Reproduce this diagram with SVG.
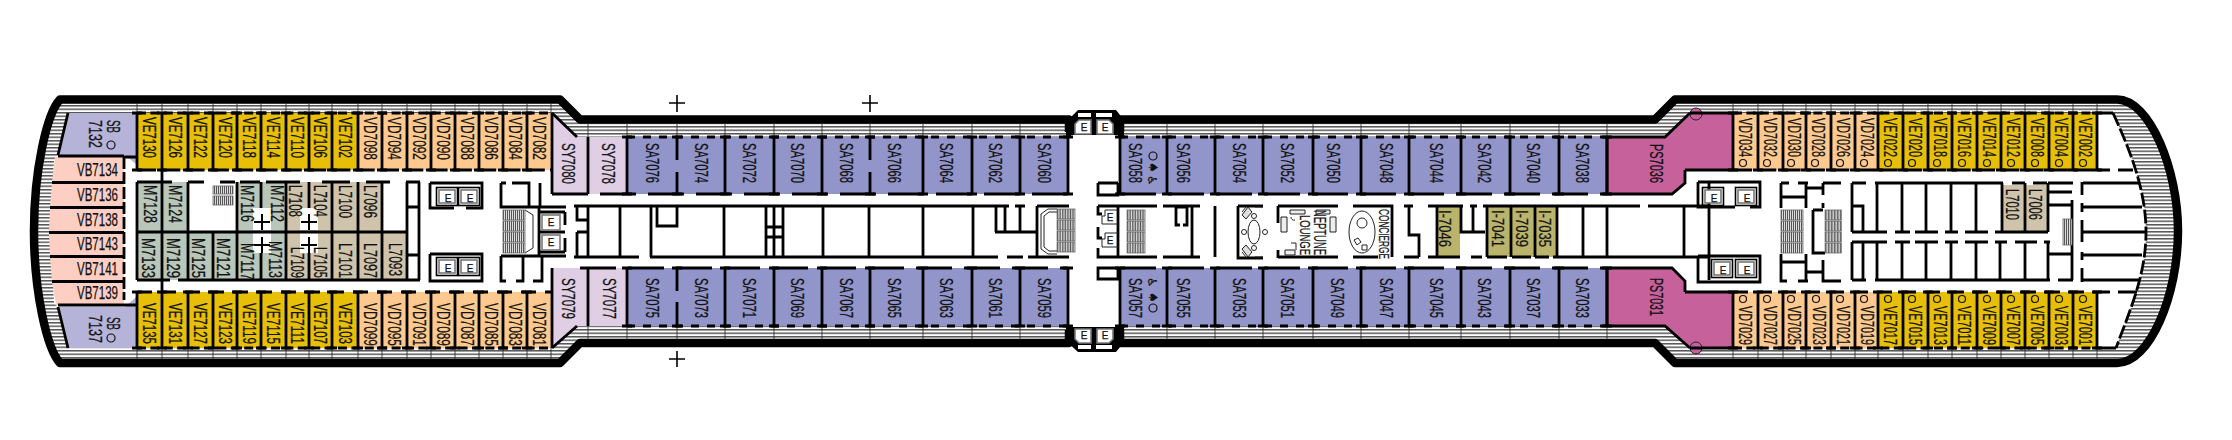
<svg xmlns="http://www.w3.org/2000/svg" width="2232" height="440" viewBox="0 0 2232 440">
<style>
text{font-family:"Liberation Sans",Arial,sans-serif;fill:#111;stroke:#111;stroke-width:.25}
.l{font-size:18px}
.s{font-size:17px}
.e{font-size:10px;text-anchor:middle}
.w{fill:none;stroke:#000;stroke-width:2.8}
.t{fill:none;stroke:#222;stroke-width:.8}
.n{fill:none;stroke:#222;stroke-width:1}
.hull{fill:none;stroke:#000;stroke-width:8.500;stroke-linejoin:round}
.ve{fill:#e6bf06}.vd{fill:#fdc98f}.sb{fill:#b6b3d9}.vb{fill:#fdcfc3}.m{fill:#b9c6ba}.ll{fill:#cfc4ab}.sy{fill:#e0cfe4}.sa{fill:#9295c9}.ps{fill:#c6619b}.ii{fill:#bab36c}
.o{fill:none;stroke:#111;stroke-width:1.2}
.ebox{fill:#fff;stroke:#777;stroke-width:1.6}
.st{fill:url(#stair);stroke:#666;stroke-width:.8}
</style>
<defs>
<pattern id="rail" width="10" height="3.500" patternUnits="userSpaceOnUse"><rect width="10" height="3.500" fill="#fff"/><rect width="10" height="1.500" fill="#555"/></pattern>
<pattern id="stair" width="2" height="10" patternUnits="userSpaceOnUse"><rect width="2" height="10" fill="#ddd"/><rect width="1" height="10" fill="#555"/></pattern>
<path id="d1" class="w" d="M0 112V171M-5 113H5M-5 170H5"/>
<path id="d2" class="w" d="M0 291V349M-5 292H5M-5 348H5"/>
<path id="d3" class="w" d="M0 136V195M-5 137H5M-5 194H5"/>
<path id="d4" class="w" d="M0 267V327M-5 268H5M-5 326H5"/>
<path id="d3g" class="w" d="M0 136V160M0 172V195M-5 137H5M-5 194H5"/>
<path id="d4g" class="w" d="M0 267V291M0 302V327M-5 268H5M-5 326H5"/>
<g id="ev"><rect x="-1.500" y="-1.500" width="21" height="18" fill="none" stroke="#000" stroke-width="1.600"/><rect class="ebox" x="1" y="1" width="16" height="13"/></g>
<g id="stairs"><rect class="st" width="22" height="10"/><rect class="st" y="11" width="22" height="10"/><rect class="st" y="22" width="22" height="10"/><rect class="st" y="33" width="22" height="10"/></g>
</defs>

<g id="hull">
<path fill="url(#rail)" d="M1068 119.500H580L560 99.500H60C47 113 34 170 34 231C34 292 47 349 60 363H560L580 343H1068Z"/>
<path fill="url(#rail)" d="M1120 119.500H1655L1675 99.500H2117C2150 99.500 2178 170 2178 231C2178 295 2150 363 2117 363H1675L1655 343H1120Z"/>
<path fill="#fff" d="M68 113H552L577 137H1068V326H577L552 348H68L58 307L54 303L50 232L54 160L58 155Z"/>
<path fill="#fff" d="M1120 137H1665L1690 113H2113C2130 150 2146 190 2146 232C2146 275 2130 310 2116 348H1690L1665 326H1120Z"/>
<path class="hull" d="M1069 132V119.500H580L560 99.500H60C47 113 34 170 34 231C34 292 47 349 60 363H560L580 343H1069V330"/>
<path class="hull" d="M1120 132V119.500H1655L1675 99.500H2117C2150 99.500 2178 170 2178 231C2178 295 2150 363 2117 363H1675L1655 343H1120V330"/>
<path class="t" d="M137 103V113M162 103V113M188 103V113M213 103V113M237 103V113M261 103V113M286 103V113M309 103V113M332 103V113M358 103V113M382 103V113M407 103V113M431 103V113M455 103V113M479 103V113M503 103V113M527 103V113M551 103V113
M137 348V359M162 348V359M188 348V359M213 348V359M237 348V359M261 348V359M286 348V359M309 348V359M332 348V359M358 348V359M382 348V359M407 348V359M431 348V359M455 348V359M479 348V359M503 348V359M527 348V359M551 348V359
M588 123V137M627 123V137M677 123V137M725 123V137M774 123V137M822 123V137M870 123V137M923 123V137M972 123V137M1020 123V137M1167 123V137M1215 123V137M1263 123V137M1313 123V137M1361 123V137M1409 123V137M1461 123V137M1510 123V137M1559 123V137M1607 123V137
M588 326V339M627 326V339M677 326V339M725 326V339M774 326V339M822 326V339M870 326V339M923 326V339M972 326V339M1020 326V339M1167 326V339M1215 326V339M1263 326V339M1313 326V339M1361 326V339M1409 326V339M1461 326V339M1510 326V339M1559 326V339M1607 326V339
M1733 103V113M1758 103V113M1783 103V113M1806 103V113M1831 103V113M1855 103V113M1878 103V113M1903 103V113M1928 103V113M1952 103V113M1977 103V113M2001 103V113M2025 103V113M2049 103V113M2073 103V113M2097 103V113
M1733 348V359M1758 348V359M1783 348V359M1806 348V359M1831 348V359M1855 348V359M1878 348V359M1903 348V359M1928 348V359M1952 348V359M1977 348V359M2001 348V359M2025 348V359M2049 348V359M2073 348V359M2097 348V359"/>
<path d="M669 103H685M677 95V112M862 103H878M870 95V112M669 359H685M677 351V367" fill="none" stroke="#000" stroke-width="1.600"/>
</g>

<g id="cabin-fills">
<path class="sb" d="M68 113H137V165L125 155H58Z"/>
<path class="sb" d="M58 307H125L137 296V348H68Z"/>
<path class="vb" d="M55 157H124V182H52Z"/><path class="vb" d="M52 183H124V207H50Z"/><path class="vb" d="M50 208H124V232H49Z"/><path class="vb" d="M49 233H124V256H50Z"/><path class="vb" d="M50 257H124V281H52Z"/><path class="vb" d="M52 282H124V305H56Z"/>
<rect class="ve" x="137" y="113" width="221" height="57"/>
<rect class="vd" x="358" y="113" width="194" height="57"/>
<rect class="ve" x="137" y="292" width="221" height="56"/>
<rect class="vd" x="358" y="292" width="194" height="56"/>
<path class="sy" d="M552 113L577 137H627V194H552Z"/>
<path class="sy" d="M552 268H627V326H577L553 348Z"/>
<rect class="sa" x="627" y="137" width="441" height="57"/>
<rect class="sa" x="627" y="268" width="441" height="58"/>
<rect class="sa" x="1120" y="137" width="487" height="57"/>
<rect class="sa" x="1120" y="268" width="487" height="58"/>
<path class="ps" d="M1607 137H1665L1690 114H1733V170H1685V183L1672 194H1607Z"/>
<path class="ps" d="M1607 268H1672L1685 281V292H1733V348H1690L1665 326H1607Z"/>
<rect class="vd" x="1733" y="113" width="145" height="57"/>
<rect class="ve" x="1878" y="113" width="219" height="57"/>
<rect class="vd" x="1733" y="292" width="145" height="56"/>
<rect class="ve" x="1878" y="292" width="219" height="56"/>
<rect class="m" x="137" y="182" width="52" height="50"/>
<rect class="m" x="237" y="182" width="49" height="50"/>
<rect class="m" x="137" y="232" width="149" height="48"/>
<rect class="ll" x="286" y="182" width="96" height="50"/>
<rect class="ll" x="286" y="232" width="121" height="48"/>
<rect class="ii" x="1437" y="207" width="23" height="50"/>
<rect class="ii" x="1487" y="207" width="70" height="50"/>
<rect class="ll" x="2002" y="185" width="45" height="46"/>
<path fill="#fff" d="M253 208H271V230H253ZM253 233H271V253H253ZM300 208H318V230H300ZM300 233H318V253H300Z"/>
<circle cx="1696" cy="114" r="6" class="ps" stroke="#222" stroke-width="1"/>
<circle cx="1696" cy="348" r="6" class="ps" stroke="#222" stroke-width="1"/>
</g>

<g id="walls">
<path class="w" stroke-dasharray="9 4.400" d="M137 113H552M137 348H552"/>
<path class="w" stroke-dasharray="19 5.300" d="M137 170H552"/>
<path class="w" stroke-dasharray="15 9" d="M137 292H552"/>
<path class="w" stroke-dasharray="8 8" d="M627 137H1068M1120 137H1607M627 326H1068M1120 326H1607"/>
<path class="w" stroke-dasharray="36 12" d="M552 194H1068M1120 194H1607M580 268H1068M1120 268H1607"/>
<path class="w" stroke-dasharray="9 4.400" d="M1733 113H2097M1733 348H2097"/>
<path class="w" stroke-dasharray="19 5.300" d="M1733 170H2097"/>
<path class="w" stroke-dasharray="15 9" d="M1733 292H2097"/>
<path class="w" d="M68 113L58 155M58 307L68 348M552 113L577 137M552 348L577 326" stroke-width="1.500"/>
<path class="w" d="M552 113V194M552 268V348M588 137V194M588 268V326"/>
<path class="w" d="M124 157V300" stroke-dasharray="12 3"/>
<path class="w" d="M124 157H137M124 305H137M52 182.500H124M50 207.500H124M49 232.500H124M50 256.500H124M52 281.500H124M58 156H124M58 305H124"/>
<use href="#d1" x="137"/><use href="#d1" x="162"/><use href="#d1" x="188"/><use href="#d1" x="213"/><use href="#d1" x="237"/><use href="#d1" x="261"/><use href="#d1" x="286"/><use href="#d1" x="309"/><use href="#d1" x="332"/><use href="#d1" x="358"/><use href="#d1" x="382"/><use href="#d1" x="407"/><use href="#d1" x="431"/><use href="#d1" x="455"/><use href="#d1" x="479"/><use href="#d1" x="503"/><use href="#d1" x="527"/>
<use href="#d2" x="137"/><use href="#d2" x="162"/><use href="#d2" x="188"/><use href="#d2" x="213"/><use href="#d2" x="237"/><use href="#d2" x="261"/><use href="#d2" x="286"/><use href="#d2" x="309"/><use href="#d2" x="332"/><use href="#d2" x="358"/><use href="#d2" x="382"/><use href="#d2" x="407"/><use href="#d2" x="431"/><use href="#d2" x="455"/><use href="#d2" x="479"/><use href="#d2" x="503"/><use href="#d2" x="527"/>
<use href="#d3" x="627"/><use href="#d3g" x="677"/><use href="#d3" x="725"/><use href="#d3" x="774"/><use href="#d3" x="822"/><use href="#d3g" x="870"/><use href="#d3" x="923"/><use href="#d3" x="972"/><use href="#d3" x="1020"/><use href="#d3" x="1068"/>
<use href="#d4" x="627"/><use href="#d4g" x="677"/><use href="#d4" x="725"/><use href="#d4" x="774"/><use href="#d4" x="822"/><use href="#d4" x="870"/><use href="#d4" x="923"/><use href="#d4" x="972"/><use href="#d4" x="1020"/><use href="#d4" x="1068"/>
<use href="#d3" x="1120"/><use href="#d3" x="1167"/><use href="#d3" x="1215"/><use href="#d3" x="1263"/><use href="#d3" x="1313"/><use href="#d3" x="1361"/><use href="#d3" x="1409"/><use href="#d3" x="1461"/><use href="#d3" x="1510"/><use href="#d3" x="1559"/><use href="#d3" x="1607"/>
<use href="#d4" x="1120"/><use href="#d4" x="1167"/><use href="#d4" x="1215"/><use href="#d4" x="1263"/><use href="#d4" x="1313"/><use href="#d4" x="1361"/><use href="#d4" x="1409"/><use href="#d4" x="1461"/><use href="#d4" x="1510"/><use href="#d4" x="1559"/><use href="#d4" x="1607"/>
<use href="#d1" x="1733"/><use href="#d1" x="1758"/><use href="#d1" x="1783"/><use href="#d1" x="1806"/><use href="#d1" x="1831"/><use href="#d1" x="1855"/><use href="#d1" x="1878"/><use href="#d1" x="1903"/><use href="#d1" x="1928"/><use href="#d1" x="1952"/><use href="#d1" x="1977"/><use href="#d1" x="2001"/><use href="#d1" x="2025"/><use href="#d1" x="2049"/><use href="#d1" x="2073"/><use href="#d1" x="2097"/>
<use href="#d2" x="1733"/><use href="#d2" x="1758"/><use href="#d2" x="1783"/><use href="#d2" x="1806"/><use href="#d2" x="1831"/><use href="#d2" x="1855"/><use href="#d2" x="1878"/><use href="#d2" x="1903"/><use href="#d2" x="1928"/><use href="#d2" x="1952"/><use href="#d2" x="1977"/><use href="#d2" x="2001"/><use href="#d2" x="2025"/><use href="#d2" x="2049"/><use href="#d2" x="2073"/><use href="#d2" x="2097"/>
<path class="w" d="M1607 137V194M1607 268V326M1685 170V183L1672 194H1607M1685 292V281L1672 268H1607M1733 170H1685M1733 292H1685M1690 113H1733M1690 348H1733M1607 137H1665L1690 113M1607 326H1665L1690 348"/>
<path class="w" d="M2097 113H2113M2097 348H2116M2097 170H2110M2118 170H2133M2097 292H2110M2118 292H2137"/>
<path class="w" stroke-dasharray="14 3" d="M2113 113C2130 150 2146 190 2146 232C2146 275 2130 310 2116 348"/>
<path class="w" d="M137 182H172M188 182H204M220 182H235M240 182H260M266 182H300M322 182H350M366 182H390M406 182H420M137 280H170M178 280H420M137 182V280M162 170V182M162 280V292M137 232H407M162 182V280M188 182V280M213 232V280M237 182V280M261 182V208M261 253V280M286 182V280M309 182V208M309 253V280M332 182V280M358 182V280M382 182V280M407 182V280M419 182V280M407 207H419M407 255H419"/>
<path class="w" d="M501 183V207H566M501 183H506M512 183H529V207M540 183V207M501 256H566M501 256V281H506M516 281H523V256M533 281H542V256M574 206H1009M574 257H639M650 257H998M1007 257H1023M1028 257H1069M1037 206H1069M577 207V220H588M577 232V257M577 232H588M588 206V257M620 206V257M651 206V257M657 207V226H677V206M724 206V257M766 206V257M774 206V257M783 206V257M766 227H783M766 237H783M823 206V257M869 206V257M923 206V257M973 206V257M996 207V232M1005 207V232M1020 206V232M995 232H1037M1037 206V257M1015 206H1025"/>
<path class="n" d="M525 210L533 215V248L525 253M1057 209H1048L1041 214V249L1048 254H1057M1057 212H1049L1044 216V247L1049 251H1057"/>
<path class="w" d="M1098 206V214H1102M1098 227V238H1102M1098 248V257H1102M1098 206H1157M1163 206H1200M1098 257H1157M1163 257H1200M1118 206V257M1176 207V225H1180M1187 207V225H1183M1176 207H1187M1192 207V257M1215 206V257M1098 183V195H1118V183M1098 183H1118M1098 268H1118V279H1098Z"/>
<path class="w" d="M1238 206H1263M1238 206V258H1263M1278 206H1338M1278 206V223M1278 250V258M1278 257H1338M1353 206H1392V257M1353 257H1378M1404 206H1413M1409 206V235H1419V257M1404 257H1419M1428 206H1463M1461 206V232H1485M1473 206V232M1470 206H1477M1483 206H1640M1428 257H1460M1471 257H1482M1487 257H1507M1512 257H1531M1535 257H1549M1553 257H1640M1648 206H1710M1583 206V257M1607 206V257M1684 206V257M1709 183V280M1640 257H1710M1437 207V257M1487 207V257M1511 207V257M1535 207V257M1557 207V257"/>
<path class="w" d="M1781 183V208M1781 183H1789M1798 183H1808M1781 197H1806M1806 183V208M1806 188H1823M1823 183H1841M1823 183V195M1823 203V208M1781 254V281H1787M1798 281H1808M1781 262H1806M1806 254V281M1806 272H1823M1823 260V281H1841M1813 210V253H1825M1813 210H1823"/>
<path class="w" d="M1852 183H1866M1852 183V232M1852 206H1863V232M1852 232H1887M1877 183V232M1875 183H1910M1902 183V232M1895 232H1910M1852 242V280M1852 242H1887M1863 242V280M1877 242V280M1902 242V280M1895 242H1910M1852 280H1866M1875 280H2050M1902 183H2003M2012 183H2025M2033 183H2047M2048 183H2073M2083 183H2140M1926 183V232M1951 183V232M1976 183V232M1926 242V280M1951 242V280M1976 242V280M2000 242V280M2025 242V280M2048 183V232M2048 242V280M2002 232H2048M2002 183V232M2025 183V232M1915 232H1938M1945 232H1958M1965 232H1988M1995 232H2002M1915 242H1938M1945 242H1958M1965 242H1988M1995 242H2007M2015 242H2037M2044 242H2050M2048 192H2072M2048 205H2072M2048 254H2072M2072 200V262M2072 252V280M2058 280H2073M2082 182V195M2082 203V212M2082 220V242M2082 252V260M2082 268V282M2083 207H2142M2083 232H2145M2083 255H2142M2082 280H2140"/>
</g>

<g id="services">
<use href="#ev" x="438" y="189"/><use href="#ev" x="460" y="189"/><use href="#ev" x="438" y="259"/><use href="#ev" x="460" y="259"/>
<path class="w" d="M430 183H482V208H466M454 208H430V183M430 254H482V281H430V254M430 254H444M452 254H466"/>
<use href="#ev" x="1704" y="189"/><use href="#ev" x="1737" y="189"/><use href="#ev" x="1713" y="261"/><use href="#ev" x="1737" y="261"/>
<path class="w" d="M1698 182H1760V207H1750M1735 207H1698V182M1698 256H1760V282H1698V256"/>
<path class="w" d="M539 207V256M539 212H565M539 232H565M539 252H565M565 212V225M565 238V252"/>
<rect class="ebox" x="542" y="215" width="18" height="15"/><rect class="ebox" x="542" y="235" width="18" height="15"/>
<use href="#stairs" x="503" y="210"/>
<use href="#stairs" transform="translate(1057 209) scale(.82 1)"/>
<use href="#stairs" transform="translate(1127 210) scale(.82 1)"/>
<use href="#stairs" x="1781" y="210"/>
<use href="#stairs" transform="translate(1825 210) scale(.75 1)"/>
<rect class="st" x="213" y="186" width="20" height="8"/><rect class="st" x="213" y="196" width="20" height="9"/>
<rect class="st" x="2063" y="219" width="9" height="26"/>
<path fill="#000" d="M1066 122L1078 110H1116L1124 120V137H1118V135H1071V137H1066Z"/>
<path fill="#000" d="M1066 341L1078 352H1116L1124 342V326H1118V327H1071V326H1066Z"/>
<path fill="#fff" d="M1078 113H1091V117H1078ZM1096 113H1112V117H1096ZM1078 345H1091V349H1078ZM1096 345H1112V349H1096Z"/>
<path class="ebox" d="M1075 134V124L1079 120H1091V134ZM1097 134V120H1109L1113 124V134ZM1075 329V339L1079 343H1091V329ZM1097 329V343H1109L1113 339V329Z"/>
<path class="n" d="M1118 210H1105V216H1102V224H1118M1118 233H1105V239H1102V247H1118" stroke-width="1.500"/>
<g>
<text class="e" x="448" y="202">E</text><text class="e" x="470" y="202">E</text><text class="e" x="448" y="272">E</text><text class="e" x="470" y="272">E</text>
<text class="e" x="1714" y="202">E</text><text class="e" x="1747" y="202">E</text><text class="e" x="1723" y="274">E</text><text class="e" x="1747" y="274">E</text>
<text class="e" x="551" y="226">E</text><text class="e" x="551" y="246">E</text>
<text class="e" x="1084" y="131">E</text><text class="e" x="1105" y="131">E</text><text class="e" x="1084" y="339">E</text><text class="e" x="1105" y="339">E</text>
<text class="e" x="1110" y="221">E</text><text class="e" x="1110" y="244">E</text>
</g>
<g class="n"><ellipse cx="1254" cy="232" rx="6" ry="12"/><circle cx="1254" cy="216" r="2.500"/><circle cx="1254" cy="248" r="2.500"/><circle cx="1244" cy="232" r="2.500"/><circle cx="1265" cy="232" r="2.500"/><path d="M1242 215L1248 207L1252 212L1246 219ZM1242 249L1248 257L1252 252L1246 245ZM1246 207L1242 212M1246 257L1242 252M1255 207H1263M1255 257H1263" fill="#ddd"/><path fill="#eee" d="M1281 217H1287V232H1281ZM1290 210H1305V214H1290ZM1316 210H1330V214H1316ZM1330 217H1336V232H1330ZM1285 250H1295V255H1285Z"/><path d="M1291 217A3 3 0 0 0 1295 220M1291 243H1296V250"/><ellipse cx="1362" cy="232" rx="13" ry="21"/><circle cx="1362" cy="223" r="5"/><path d="M1354 240L1358 238L1361 242L1357 245ZM1362 245H1367V250H1362Z"/></g>
</g>

<g id="labels">
<g id="l-top-left">
<text class="l" textLength="41" lengthAdjust="spacingAndGlyphs" transform="translate(143 117)rotate(90)">VE7130</text>
<text class="l" textLength="41" lengthAdjust="spacingAndGlyphs" transform="translate(168.500 117)rotate(90)">VE7126</text>
<text class="l" textLength="41" lengthAdjust="spacingAndGlyphs" transform="translate(194 117)rotate(90)">VE7122</text>
<text class="l" textLength="41" lengthAdjust="spacingAndGlyphs" transform="translate(218.500 117)rotate(90)">VE7120</text>
<text class="l" textLength="41" lengthAdjust="spacingAndGlyphs" transform="translate(242.500 117)rotate(90)">VE7118</text>
<text class="l" textLength="41" lengthAdjust="spacingAndGlyphs" transform="translate(267 117)rotate(90)">VE7114</text>
<text class="l" textLength="41" lengthAdjust="spacingAndGlyphs" transform="translate(291 117)rotate(90)">VE7110</text>
<text class="l" textLength="41" lengthAdjust="spacingAndGlyphs" transform="translate(314 117)rotate(90)">VE7106</text>
<text class="l" textLength="41" lengthAdjust="spacingAndGlyphs" transform="translate(338.500 117)rotate(90)">VE7102</text>
<text class="l" textLength="43" lengthAdjust="spacingAndGlyphs" transform="translate(363.500 117)rotate(90)">VD7098</text>
<text class="l" textLength="43" lengthAdjust="spacingAndGlyphs" transform="translate(388 117)rotate(90)">VD7094</text>
<text class="l" textLength="43" lengthAdjust="spacingAndGlyphs" transform="translate(412.500 117)rotate(90)">VD7092</text>
<text class="l" textLength="43" lengthAdjust="spacingAndGlyphs" transform="translate(436.500 117)rotate(90)">VD7090</text>
<text class="l" textLength="43" lengthAdjust="spacingAndGlyphs" transform="translate(460.500 117)rotate(90)">VD7088</text>
<text class="l" textLength="43" lengthAdjust="spacingAndGlyphs" transform="translate(484.500 117)rotate(90)">VD7086</text>
<text class="l" textLength="43" lengthAdjust="spacingAndGlyphs" transform="translate(508.500 117)rotate(90)">VD7084</text>
<text class="l" textLength="43" lengthAdjust="spacingAndGlyphs" transform="translate(532.500 117)rotate(90)">VD7082</text>
</g>
<g id="l-bottom-left">
<text class="l" textLength="41" lengthAdjust="spacingAndGlyphs" transform="translate(143 303)rotate(90)">VE7135</text>
<text class="l" textLength="41" lengthAdjust="spacingAndGlyphs" transform="translate(168.500 303)rotate(90)">VE7131</text>
<text class="l" textLength="41" lengthAdjust="spacingAndGlyphs" transform="translate(194 303)rotate(90)">VE7127</text>
<text class="l" textLength="41" lengthAdjust="spacingAndGlyphs" transform="translate(218.500 303)rotate(90)">VE7123</text>
<text class="l" textLength="41" lengthAdjust="spacingAndGlyphs" transform="translate(242.500 303)rotate(90)">VE7119</text>
<text class="l" textLength="41" lengthAdjust="spacingAndGlyphs" transform="translate(267 303)rotate(90)">VE7115</text>
<text class="l" textLength="41" lengthAdjust="spacingAndGlyphs" transform="translate(291 303)rotate(90)">VE7111</text>
<text class="l" textLength="41" lengthAdjust="spacingAndGlyphs" transform="translate(314 303)rotate(90)">VE7107</text>
<text class="l" textLength="41" lengthAdjust="spacingAndGlyphs" transform="translate(338.500 303)rotate(90)">VE7103</text>
<text class="l" textLength="43" lengthAdjust="spacingAndGlyphs" transform="translate(363.500 303)rotate(90)">VD7099</text>
<text class="l" textLength="43" lengthAdjust="spacingAndGlyphs" transform="translate(388 303)rotate(90)">VD7095</text>
<text class="l" textLength="43" lengthAdjust="spacingAndGlyphs" transform="translate(412.500 303)rotate(90)">VD7091</text>
<text class="l" textLength="43" lengthAdjust="spacingAndGlyphs" transform="translate(436.500 303)rotate(90)">VD7089</text>
<text class="l" textLength="43" lengthAdjust="spacingAndGlyphs" transform="translate(460.500 303)rotate(90)">VD7087</text>
<text class="l" textLength="43" lengthAdjust="spacingAndGlyphs" transform="translate(484.500 303)rotate(90)">VD7085</text>
<text class="l" textLength="43" lengthAdjust="spacingAndGlyphs" transform="translate(508.500 303)rotate(90)">VD7083</text>
<text class="l" textLength="43" lengthAdjust="spacingAndGlyphs" transform="translate(532.500 303)rotate(90)">VD7081</text>
</g>
<g id="l-sb-vb">
<text class="l" textLength="13" lengthAdjust="spacingAndGlyphs" transform="translate(107 120)rotate(90)">SB</text>
<text class="l" textLength="28" lengthAdjust="spacingAndGlyphs" transform="translate(89 120)rotate(90)">7132</text>
<circle class="o" cx="111" cy="145" r="4"/>
<text class="l" textLength="13" lengthAdjust="spacingAndGlyphs" transform="translate(107 317)rotate(90)">SB</text>
<text class="l" textLength="28" lengthAdjust="spacingAndGlyphs" transform="translate(89 315)rotate(90)">7137</text>
<circle class="o" cx="111" cy="338" r="4"/>
<text class="l" x="77" y="176" textLength="41" lengthAdjust="spacingAndGlyphs">VB7134</text>
<text class="l" x="77" y="201" textLength="41" lengthAdjust="spacingAndGlyphs">VB7136</text>
<text class="l" x="77" y="226" textLength="41" lengthAdjust="spacingAndGlyphs">VB7138</text>
<text class="l" x="77" y="250" textLength="41" lengthAdjust="spacingAndGlyphs">VB7143</text>
<text class="l" x="77" y="275" textLength="41" lengthAdjust="spacingAndGlyphs">VB7141</text>
<text class="l" x="77" y="299" textLength="41" lengthAdjust="spacingAndGlyphs">VB7139</text>
</g>
<g id="l-inner-left">
<text class="l" textLength="38" lengthAdjust="spacingAndGlyphs" transform="translate(144 185)rotate(90)">M7128</text>
<text class="l" textLength="38" lengthAdjust="spacingAndGlyphs" transform="translate(169 185)rotate(90)">M7124</text>
<text class="l" textLength="37" lengthAdjust="spacingAndGlyphs" transform="translate(241 185)rotate(90)">M7116</text>
<text class="l" textLength="37" lengthAdjust="spacingAndGlyphs" transform="translate(271 185)rotate(90)">M7112</text>
<text class="l" textLength="32" lengthAdjust="spacingAndGlyphs" transform="translate(289 185)rotate(90)">L7108</text>
<text class="l" textLength="32" lengthAdjust="spacingAndGlyphs" transform="translate(314 185)rotate(90)">L7104</text>
<text class="l" textLength="33" lengthAdjust="spacingAndGlyphs" transform="translate(339 185)rotate(90)">L7100</text>
<text class="l" textLength="33" lengthAdjust="spacingAndGlyphs" transform="translate(364 185)rotate(90)">L7096</text>
<text class="l" textLength="40" lengthAdjust="spacingAndGlyphs" transform="translate(142 238)rotate(90)">M7133</text>
<text class="l" textLength="40" lengthAdjust="spacingAndGlyphs" transform="translate(167 238)rotate(90)">M7129</text>
<text class="l" textLength="40" lengthAdjust="spacingAndGlyphs" transform="translate(192 238)rotate(90)">M7125</text>
<text class="l" textLength="40" lengthAdjust="spacingAndGlyphs" transform="translate(217 238)rotate(90)">M7121</text>
<text class="l" textLength="37" lengthAdjust="spacingAndGlyphs" transform="translate(241 243)rotate(90)">M7117</text>
<text class="l" textLength="37" lengthAdjust="spacingAndGlyphs" transform="translate(269 241)rotate(90)">M7113</text>
<text class="l" textLength="31" lengthAdjust="spacingAndGlyphs" transform="translate(291 247)rotate(90)">L7109</text>
<text class="l" textLength="31" lengthAdjust="spacingAndGlyphs" transform="translate(314 247)rotate(90)">L7105</text>
<text class="l" textLength="35" lengthAdjust="spacingAndGlyphs" transform="translate(339 243)rotate(90)">L7101</text>
<text class="l" textLength="35" lengthAdjust="spacingAndGlyphs" transform="translate(364 243)rotate(90)">L7097</text>
<text class="l" textLength="33" lengthAdjust="spacingAndGlyphs" transform="translate(389 243)rotate(90)">L7093</text>
</g>
<g id="l-mid-top">
<text class="l" textLength="41" lengthAdjust="spacingAndGlyphs" transform="translate(562 143)rotate(90)">SY7080</text>
<text class="l" textLength="41" lengthAdjust="spacingAndGlyphs" transform="translate(602 143)rotate(90)">SY7078</text>
<text class="l" textLength="40" lengthAdjust="spacingAndGlyphs" transform="translate(646 143)rotate(90)">SA7076</text>
<text class="l" textLength="40" lengthAdjust="spacingAndGlyphs" transform="translate(695 143)rotate(90)">SA7074</text>
<text class="l" textLength="40" lengthAdjust="spacingAndGlyphs" transform="translate(743 143)rotate(90)">SA7072</text>
<text class="l" textLength="40" lengthAdjust="spacingAndGlyphs" transform="translate(791 143)rotate(90)">SA7070</text>
<text class="l" textLength="40" lengthAdjust="spacingAndGlyphs" transform="translate(840 143)rotate(90)">SA7068</text>
<text class="l" textLength="40" lengthAdjust="spacingAndGlyphs" transform="translate(888 143)rotate(90)">SA7066</text>
<text class="l" textLength="40" lengthAdjust="spacingAndGlyphs" transform="translate(940 143)rotate(90)">SA7064</text>
<text class="l" textLength="40" lengthAdjust="spacingAndGlyphs" transform="translate(989 143)rotate(90)">SA7062</text>
<text class="l" textLength="40" lengthAdjust="spacingAndGlyphs" transform="translate(1038 143)rotate(90)">SA7060</text>
<text class="l" textLength="40" lengthAdjust="spacingAndGlyphs" transform="translate(1129 143)rotate(90)">SA7058</text>
<text class="l" textLength="40" lengthAdjust="spacingAndGlyphs" transform="translate(1177 143)rotate(90)">SA7056</text>
<text class="l" textLength="40" lengthAdjust="spacingAndGlyphs" transform="translate(1233 143)rotate(90)">SA7054</text>
<text class="l" textLength="40" lengthAdjust="spacingAndGlyphs" transform="translate(1281 143)rotate(90)">SA7052</text>
<text class="l" textLength="40" lengthAdjust="spacingAndGlyphs" transform="translate(1327 143)rotate(90)">SA7050</text>
<text class="l" textLength="40" lengthAdjust="spacingAndGlyphs" transform="translate(1380 143)rotate(90)">SA7048</text>
<text class="l" textLength="40" lengthAdjust="spacingAndGlyphs" transform="translate(1430 143)rotate(90)">SA7044</text>
<text class="l" textLength="40" lengthAdjust="spacingAndGlyphs" transform="translate(1478 143)rotate(90)">SA7042</text>
<text class="l" textLength="40" lengthAdjust="spacingAndGlyphs" transform="translate(1527 143)rotate(90)">SA7040</text>
<text class="l" textLength="40" lengthAdjust="spacingAndGlyphs" transform="translate(1576 143)rotate(90)">SA7038</text>
<text class="l" textLength="39" lengthAdjust="spacingAndGlyphs" transform="translate(1650 144)rotate(90)">PS7036</text>
</g>
<g id="l-mid-bottom">
<text class="l" textLength="41" lengthAdjust="spacingAndGlyphs" transform="translate(562 278)rotate(90)">SY7079</text>
<text class="l" textLength="41" lengthAdjust="spacingAndGlyphs" transform="translate(603 278)rotate(90)">SY7077</text>
<text class="l" textLength="40" lengthAdjust="spacingAndGlyphs" transform="translate(646 278)rotate(90)">SA7075</text>
<text class="l" textLength="40" lengthAdjust="spacingAndGlyphs" transform="translate(695 278)rotate(90)">SA7073</text>
<text class="l" textLength="40" lengthAdjust="spacingAndGlyphs" transform="translate(743 278)rotate(90)">SA7071</text>
<text class="l" textLength="40" lengthAdjust="spacingAndGlyphs" transform="translate(791 278)rotate(90)">SA7069</text>
<text class="l" textLength="40" lengthAdjust="spacingAndGlyphs" transform="translate(840 278)rotate(90)">SA7067</text>
<text class="l" textLength="40" lengthAdjust="spacingAndGlyphs" transform="translate(888 278)rotate(90)">SA7065</text>
<text class="l" textLength="40" lengthAdjust="spacingAndGlyphs" transform="translate(940 278)rotate(90)">SA7063</text>
<text class="l" textLength="40" lengthAdjust="spacingAndGlyphs" transform="translate(989 278)rotate(90)">SA7061</text>
<text class="l" textLength="40" lengthAdjust="spacingAndGlyphs" transform="translate(1038 278)rotate(90)">SA7059</text>
<text class="l" textLength="40" lengthAdjust="spacingAndGlyphs" transform="translate(1129 278)rotate(90)">SA7057</text>
<text class="l" textLength="40" lengthAdjust="spacingAndGlyphs" transform="translate(1177 278)rotate(90)">SA7055</text>
<text class="l" textLength="40" lengthAdjust="spacingAndGlyphs" transform="translate(1233 278)rotate(90)">SA7053</text>
<text class="l" textLength="40" lengthAdjust="spacingAndGlyphs" transform="translate(1281 278)rotate(90)">SA7051</text>
<text class="l" textLength="40" lengthAdjust="spacingAndGlyphs" transform="translate(1331 278)rotate(90)">SA7049</text>
<text class="l" textLength="40" lengthAdjust="spacingAndGlyphs" transform="translate(1380 278)rotate(90)">SA7047</text>
<text class="l" textLength="40" lengthAdjust="spacingAndGlyphs" transform="translate(1430 278)rotate(90)">SA7045</text>
<text class="l" textLength="40" lengthAdjust="spacingAndGlyphs" transform="translate(1478 278)rotate(90)">SA7043</text>
<text class="l" textLength="40" lengthAdjust="spacingAndGlyphs" transform="translate(1527 278)rotate(90)">SA7037</text>
<text class="l" textLength="40" lengthAdjust="spacingAndGlyphs" transform="translate(1576 278)rotate(90)">SA7033</text>
<text class="l" textLength="38" lengthAdjust="spacingAndGlyphs" transform="translate(1650 278)rotate(90)">PS7031</text>
</g>
<g id="l-symbols">
<circle class="o" cx="1153" cy="156" r="4"/><circle class="o" cx="1153" cy="308" r="4"/>
<text font-size="12" style="font-family:'DejaVu Sans',sans-serif" transform="translate(1149 162)rotate(90)">♠</text>
<text font-size="12" style="font-family:'DejaVu Sans',sans-serif" transform="translate(1148 175)rotate(90)">♿</text>
<text font-size="12" style="font-family:'DejaVu Sans',sans-serif" transform="translate(1149 292)rotate(90)">♠</text>
<text font-size="12" style="font-family:'DejaVu Sans',sans-serif" transform="translate(1148 277)rotate(90)">♿</text>
</g>
<g id="l-venues">
<text class="s" textLength="37" lengthAdjust="spacingAndGlyphs" transform="translate(1439 210)rotate(90)">I-7046</text>
<text class="s" textLength="37" lengthAdjust="spacingAndGlyphs" transform="translate(1492 210)rotate(90)">I-7041</text>
<text class="s" textLength="37" lengthAdjust="spacingAndGlyphs" transform="translate(1516 210)rotate(90)">I-7039</text>
<text class="s" textLength="37" lengthAdjust="spacingAndGlyphs" transform="translate(1539 210)rotate(90)">I-7035</text>
<text font-size="16" textLength="45" lengthAdjust="spacingAndGlyphs" transform="translate(1314 210)rotate(90)">NEPTUNE</text>
<text font-size="15" textLength="40" lengthAdjust="spacingAndGlyphs" transform="translate(1299.500 215)rotate(90)">LOUNGE</text>
<text font-size="15" textLength="50" lengthAdjust="spacingAndGlyphs" transform="translate(1378.500 209)rotate(90)">CONCIERGE</text>
<text class="l" textLength="31" lengthAdjust="spacingAndGlyphs" transform="translate(2006 189)rotate(90)">L7010</text>
<text class="l" textLength="31" lengthAdjust="spacingAndGlyphs" transform="translate(2029 189)rotate(90)">L7006</text>
</g>
<g id="l-top-right">
<text class="l" textLength="39" lengthAdjust="spacingAndGlyphs" transform="translate(1739 118)rotate(90)">VD7034</text>
<text class="l" textLength="39" lengthAdjust="spacingAndGlyphs" transform="translate(1764 118)rotate(90)">VD7032</text>
<text class="l" textLength="39" lengthAdjust="spacingAndGlyphs" transform="translate(1788 118)rotate(90)">VD7030</text>
<text class="l" textLength="39" lengthAdjust="spacingAndGlyphs" transform="translate(1812 118)rotate(90)">VD7028</text>
<text class="l" textLength="39" lengthAdjust="spacingAndGlyphs" transform="translate(1837 118)rotate(90)">VD7026</text>
<text class="l" textLength="39" lengthAdjust="spacingAndGlyphs" transform="translate(1861 118)rotate(90)">VD7024</text>
<text class="l" textLength="39" lengthAdjust="spacingAndGlyphs" transform="translate(1884 118)rotate(90)">VE7022</text>
<text class="l" textLength="39" lengthAdjust="spacingAndGlyphs" transform="translate(1909 118)rotate(90)">VE7020</text>
<text class="l" textLength="39" lengthAdjust="spacingAndGlyphs" transform="translate(1934 118)rotate(90)">VE7018</text>
<text class="l" textLength="39" lengthAdjust="spacingAndGlyphs" transform="translate(1958 118)rotate(90)">VE7016</text>
<text class="l" textLength="39" lengthAdjust="spacingAndGlyphs" transform="translate(1983 118)rotate(90)">VE7014</text>
<text class="l" textLength="39" lengthAdjust="spacingAndGlyphs" transform="translate(2007 118)rotate(90)">VE7012</text>
<text class="l" textLength="39" lengthAdjust="spacingAndGlyphs" transform="translate(2031 118)rotate(90)">VE7008</text>
<text class="l" textLength="39" lengthAdjust="spacingAndGlyphs" transform="translate(2055 118)rotate(90)">VE7004</text>
<text class="l" textLength="39" lengthAdjust="spacingAndGlyphs" transform="translate(2079 118)rotate(90)">VE7002</text>
<g class="o"><circle cx="1743" cy="163" r="3.500"/><circle cx="1767" cy="163" r="3.500"/><circle cx="1791" cy="163" r="3.500"/><circle cx="1815" cy="163" r="3.500"/><circle cx="1840" cy="163" r="3.500"/><circle cx="1864" cy="163" r="3.500"/><circle cx="1888" cy="163" r="3.500"/><circle cx="1912" cy="163" r="3.500"/><circle cx="1937" cy="163" r="3.500"/><circle cx="1962" cy="163" r="3.500"/><circle cx="1987" cy="163" r="3.500"/><circle cx="2011" cy="163" r="3.500"/><circle cx="2035" cy="163" r="3.500"/><circle cx="2059" cy="163" r="3.500"/><circle cx="2083" cy="163" r="3.500"/></g>
</g>
<g id="l-bottom-right">
<text class="l" textLength="39" lengthAdjust="spacingAndGlyphs" transform="translate(1739 306)rotate(90)">VD7029</text>
<text class="l" textLength="39" lengthAdjust="spacingAndGlyphs" transform="translate(1764 306)rotate(90)">VD7027</text>
<text class="l" textLength="39" lengthAdjust="spacingAndGlyphs" transform="translate(1788 306)rotate(90)">VD7025</text>
<text class="l" textLength="39" lengthAdjust="spacingAndGlyphs" transform="translate(1813 306)rotate(90)">VD7023</text>
<text class="l" textLength="39" lengthAdjust="spacingAndGlyphs" transform="translate(1837 306)rotate(90)">VD7021</text>
<text class="l" textLength="39" lengthAdjust="spacingAndGlyphs" transform="translate(1861 306)rotate(90)">VD7019</text>
<text class="l" textLength="39" lengthAdjust="spacingAndGlyphs" transform="translate(1884 306)rotate(90)">VE7017</text>
<text class="l" textLength="39" lengthAdjust="spacingAndGlyphs" transform="translate(1909 306)rotate(90)">VE7015</text>
<text class="l" textLength="39" lengthAdjust="spacingAndGlyphs" transform="translate(1934 306)rotate(90)">VE7013</text>
<text class="l" textLength="39" lengthAdjust="spacingAndGlyphs" transform="translate(1958 306)rotate(90)">VE7011</text>
<text class="l" textLength="39" lengthAdjust="spacingAndGlyphs" transform="translate(1983 306)rotate(90)">VE7009</text>
<text class="l" textLength="39" lengthAdjust="spacingAndGlyphs" transform="translate(2007 306)rotate(90)">VE7007</text>
<text class="l" textLength="39" lengthAdjust="spacingAndGlyphs" transform="translate(2031 306)rotate(90)">VE7005</text>
<text class="l" textLength="39" lengthAdjust="spacingAndGlyphs" transform="translate(2055 306)rotate(90)">VE7003</text>
<text class="l" textLength="39" lengthAdjust="spacingAndGlyphs" transform="translate(2079 306)rotate(90)">VE7001</text>
<g class="o"><circle cx="1743" cy="299" r="3.500"/><circle cx="1767" cy="299" r="3.500"/><circle cx="1791" cy="299" r="3.500"/><circle cx="1816" cy="299" r="3.500"/><circle cx="1840" cy="299" r="3.500"/><circle cx="1864" cy="299" r="3.500"/><circle cx="1888" cy="299" r="3.500"/><circle cx="1912" cy="299" r="3.500"/><circle cx="1937" cy="299" r="3.500"/><circle cx="1962" cy="299" r="3.500"/><circle cx="1987" cy="299" r="3.500"/><circle cx="2011" cy="299" r="3.500"/><circle cx="2035" cy="299" r="3.500"/><circle cx="2059" cy="299" r="3.500"/><circle cx="2083" cy="299" r="3.500"/></g>
</g>
</g>
<g id="crosses"><path d="M254 222H270M262 214V230M254 245H270M262 237V253M301 222H317M309 214V230M301 245H317M309 237V253" fill="none" stroke="#000" stroke-width="2"/></g>
</svg>
